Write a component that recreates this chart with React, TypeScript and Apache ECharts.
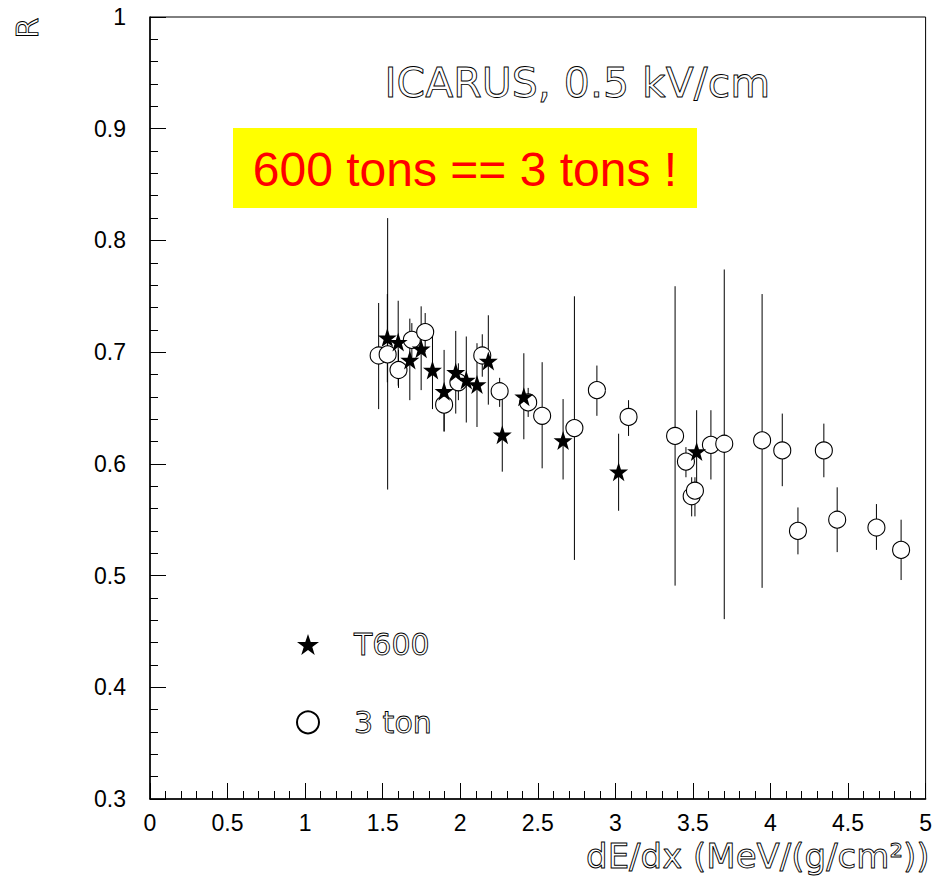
import { useEffect, useRef } from "react";
import * as echarts from "echarts";

// T600 measurements: dE/dx, R, and the lower / upper ends of the error bars
const t600X = [1.53, 1.60, 1.675, 1.748, 1.821, 1.896, 1.971, 2.039, 2.108, 2.181, 2.271, 2.41, 2.663, 3.021, 3.524];
const t600R = [0.713, 0.709, 0.693, 0.703, 0.684, 0.665, 0.682, 0.675, 0.671, 0.692, 0.626, 0.66, 0.621, 0.593, 0.611];
const t600Lo = [0.673, 0.670, 0.657, 0.666, 0.649, 0.629, 0.645, 0.637, 0.633, 0.653, 0.593, 0.622, 0.586, 0.558, 0.575];
const t600Hi = [0.752, 0.746, 0.730, 0.741, 0.715, 0.702, 0.719, 0.714, 0.708, 0.733, 0.661, 0.699, 0.658, 0.627, 0.648];

// 3 ton prototype measurements
const tonX = [1.474, 1.532, 1.602, 1.688, 1.774, 1.896, 1.988, 2.142, 2.254, 2.438, 2.528, 2.736, 2.881, 3.085, 3.385, 3.455, 3.492, 3.513, 3.616, 3.702, 3.946, 4.076, 4.177, 4.344, 4.43, 4.683, 4.842];
const tonR = [0.697, 0.698, 0.684, 0.711, 0.718, 0.653, 0.673, 0.697, 0.665, 0.655, 0.643, 0.632, 0.666, 0.642, 0.625, 0.602, 0.571, 0.576, 0.617, 0.618, 0.621, 0.612, 0.54, 0.612, 0.55, 0.543, 0.523];
const tonLo = [0.649, 0.577, 0.668, 0.695, 0.700, 0.629, 0.657, 0.678, 0.651, 0.642, 0.596, 0.514, 0.643, 0.625, 0.491, 0.588, 0.553, 0.553, 0.586, 0.461, 0.489, 0.580, 0.519, 0.588, 0.521, 0.523, 0.496];
const tonHi = [0.744, 0.820, 0.702, 0.726, 0.735, 0.667, 0.690, 0.716, 0.677, 0.668, 0.691, 0.750, 0.688, 0.657, 0.759, 0.615, 0.588, 0.588, 0.648, 0.774, 0.752, 0.645, 0.561, 0.636, 0.579, 0.564, 0.550];

const seriesNames = ["T600", "3 ton"];
const titleText = "ICARUS, 0.5 kV/cm";
const bannerText = "600 tons == 3 tons !";
const xTitle = "dE/dx (MeV/(g/cm\u00b2))";
const yTitle = "R";

const STAR =
  "path://M50,0 L61.8,35.1 L98.1,35.1 L68.8,56.7 L79.4,91.5 L50,70 L20.6,91.5 L31.2,56.7 L1.9,35.1 L38.2,35.1 Z";

// thin outlined lettering, like the stroked plotting font (component text styles)
const outlineText = {
  fontFamily: "DejaVu Sans",
  color: "rgba(0,0,0,0)",
  textBorderColor: "#000",
  textBorderWidth: 0.9,
};

// same lettering for graphic text elements
const outlineGraphic = {
  fontFamily: "DejaVu Sans",
  fill: "rgba(0,0,0,0)",
  stroke: "#000",
  lineWidth: 0.9,
};

function errorBars(xs: number[], lo: number[], hi: number[]) {
  return xs.map((x, i) => [x, lo[i], hi[i]]);
}

export default function App() {
  const ref = useRef<HTMLDivElement>(null);

  useEffect(() => {
    if (!ref.current) return;
    const chart = echarts.init(ref.current, undefined, { renderer: "svg" });

    const renderBar = (_params: any, api: any) => {
      const top = api.coord([api.value(0), api.value(2)]);
      const bot = api.coord([api.value(0), api.value(1)]);
      return {
        type: "line",
        shape: { x1: top[0], y1: top[1], x2: bot[0], y2: bot[1] },
        style: { stroke: "#000", lineWidth: 1 },
      };
    };

    chart.setOption({
      animation: false,
      backgroundColor: "#fff",
      grid: {
        left: 150,
        right: 7,
        top: 17,
        bottom: 86,
        show: true,
        borderColor: "#000",
        borderWidth: 1,
        backgroundColor: "transparent",
      },
      xAxis: {
        type: "value",
        min: 0,
        max: 5,
        interval: 0.5,
        splitLine: { show: false },
        axisLine: { show: true, onZero: false, lineStyle: { color: "#000", width: 1.5 } },
        axisTick: { show: true, inside: true, length: 16, lineStyle: { color: "#000" } },
        minorTick: { show: true, splitNumber: 5, length: 8, lineStyle: { color: "#000" } },
        axisLabel: {
          margin: 12,
          fontFamily: "Liberation Sans",
          fontSize: 23,
          color: "#000",
          formatter: (v: number) => String(Math.round(v * 10) / 10),
        },
        name: xTitle,
        nameLocation: "end",
        nameGap: 4,
        nameTextStyle: {
          ...outlineText,
          fontSize: 34,
          align: "right",
          verticalAlign: "top",
          padding: [40, 0, 0, 0],
        },
      },
      yAxis: {
        type: "value",
        min: 0.3,
        max: 1,
        interval: 0.1,
        splitLine: { show: false },
        axisLine: { show: true, onZero: false, lineStyle: { color: "#000", width: 1.5 } },
        axisTick: { show: true, inside: true, length: 16, lineStyle: { color: "#000" } },
        minorTick: { show: true, splitNumber: 5, length: 8, lineStyle: { color: "#000" } },
        axisLabel: {
          margin: 24,
          fontFamily: "Liberation Sans",
          fontSize: 23,
          color: "#000",
          formatter: (v: number) => String(Math.round(v * 10) / 10),
        },
      },
      legend: {
        orient: "vertical",
        left: 291,
        top: 624,
        itemWidth: 22,
        itemHeight: 22,
        itemGap: 47,
        data: seriesNames,
        textStyle: { ...outlineText, fontSize: 30, padding: [0, 0, 0, 30] },
      },
      graphic: [
        {
          type: "text",
          left: 384,
          top: 62,
          style: { ...outlineGraphic, text: titleText, fontSize: 41 },
        },
        {
          type: "group",
          left: 233,
          top: 128,
          children: [
            { type: "rect", shape: { x: 0, y: 0, width: 464, height: 80 }, style: { fill: "#ffff00" } },
            {
              type: "text",
              x: 232,
              y: 41,
              style: {
                text: bannerText,
                fontFamily: "Liberation Sans",
                fontSize: 48,
                fill: "#ff0000",
                align: "center",
                verticalAlign: "middle",
              },
            },
          ],
        },
        {
          type: "text",
          x: 27,
          y: 28,
          rotation: Math.PI / 2,
          style: {
            ...outlineGraphic,
            text: yTitle,
            fontSize: 30,
            align: "center",
            verticalAlign: "middle",
          },
        },
      ],
      series: [
        {
          name: "t600-bars",
          type: "custom",
          renderItem: renderBar,
          encode: { x: 0, y: [1, 2] },
          data: errorBars(t600X, t600Lo, t600Hi),
          z: 1,
          silent: true,
        },
        {
          name: "ton-bars",
          type: "custom",
          renderItem: renderBar,
          encode: { x: 0, y: [1, 2] },
          data: errorBars(tonX, tonLo, tonHi),
          z: 1,
          silent: true,
        },
        {
          name: seriesNames[1],
          type: "scatter",
          symbol: "circle",
          symbolSize: 17,
          itemStyle: { color: "#fff", borderColor: "#000", borderWidth: 1.1, opacity: 1 },
          data: tonX.map((x, i) => [x, tonR[i]]),
          z: 3,
        },
        {
          name: seriesNames[0],
          type: "scatter",
          symbol: STAR,
          symbolSize: 19,
          itemStyle: { color: "#000", opacity: 1 },
          data: t600X.map((x, i) => [x, t600R[i]]),
          z: 4,
        },
      ],
    });

    return () => chart.dispose();
  }, []);

  return (
    <div
      ref={ref}
      style={{ position: "fixed", left: 0, top: 0, width: 935, height: 885, background: "#fff" }}
    />
  );
}
